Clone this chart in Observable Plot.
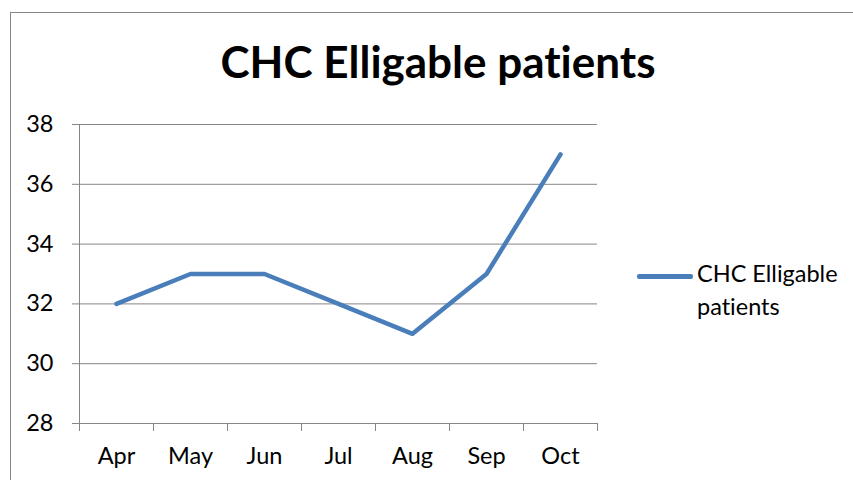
<!DOCTYPE html>
<html>
<head>
<meta charset="utf-8">
<script src="https://cdn.jsdelivr.net/npm/d3@7"></script>
<script src="https://cdn.jsdelivr.net/npm/@observablehq/plot@0.6"></script>
<style>
  body { margin: 0; background: #fff; }
  #wrap { position: relative; width: 853px; height: 480px; overflow: hidden; background: #fff; font-family: Lato, sans-serif; font-variant-ligatures: none; }
  #border { position: absolute; left: 10px; top: 12px; width: 1000px; height: 1000px; border-left: 1px solid #868686; border-top: 1px solid #868686; }
  #title { position: absolute; left: 0; width: 876px; top: 39px; text-align: center; font-weight: bold; font-size: 44px; line-height: 44px; color: #000; white-space: nowrap; }
  #legline { position: absolute; left: 637px; top: 274px; width: 56px; height: 4.5px; background: #4a7ebb; border-radius: 2px; }
  #legtext { position: absolute; left: 697px; top: 257px; font-size: 23.5px; line-height: 33px; color: #000; }
  #chart { position: absolute; left: 0; top: 0; }
  #chart svg text { font-variant-ligatures: none; }
</style>
</head>
<body>
<div id="wrap">
  <div id="border"></div>
  <div id="chart"></div>
  <div id="title"></div>
  <div id="legline"></div>
  <div id="legtext"></div>
</div>
<script>
const title = "CHC Elligable patients";
const seriesName = "CHC Elligable patients";
const months = ["Apr", "May", "Jun", "Jul", "Aug", "Sep", "Oct"];
const values = [32, 33, 33, 32, 31, 33, 37];
const yTicks = [28, 30, 32, 34, 36, 38];

const data = months.map((m, i) => ({month: m, idx: i, value: values[i]}));
const grid = "#868686";

const plot = Plot.plot({
  width: 853,
  height: 480,
  marginLeft: 79,
  marginRight: 256,
  marginTop: 124,
  marginBottom: 57,
  style: {fontFamily: "Lato, sans-serif", fontSize: "23.5px", color: "#000", background: "transparent"},
  x: {domain: [0, months.length], axis: null},
  y: {domain: [28, 38], axis: null},
  marks: [
    Plot.ruleY(yTicks, {stroke: grid, strokeWidth: 1, strokeOpacity: 1}),
    Plot.axisY({ticks: yTicks, tickSize: 7, tickPadding: 19, stroke: grid, strokeOpacity: 1, fontSize: 23.5, label: null, tickFormat: d => String(d)}),
    Plot.ruleX([0], {stroke: grid, strokeWidth: 1}),
    Plot.axisX({ticks: d3.range(months.length + 1), tickSize: 8, tickFormat: () => "", label: null, stroke: grid, strokeOpacity: 1}),
    Plot.axisX({ticks: months.map((m, i) => i + 0.5), tickSize: 0, tickPadding: 24, fontSize: 23.5, label: null, tickFormat: d => months[Math.floor(d)]}),
    Plot.line(data, {x: d => d.idx + 0.5, y: "value", stroke: "#4a7ebb", strokeWidth: 4.5, strokeLinejoin: "round", strokeLinecap: "round"})
  ]
});
document.getElementById("chart").appendChild(plot);
document.getElementById("title").textContent = title;
document.getElementById("legtext").innerHTML = "CHC Elligable<br>patients";
</script>
</body>
</html>
